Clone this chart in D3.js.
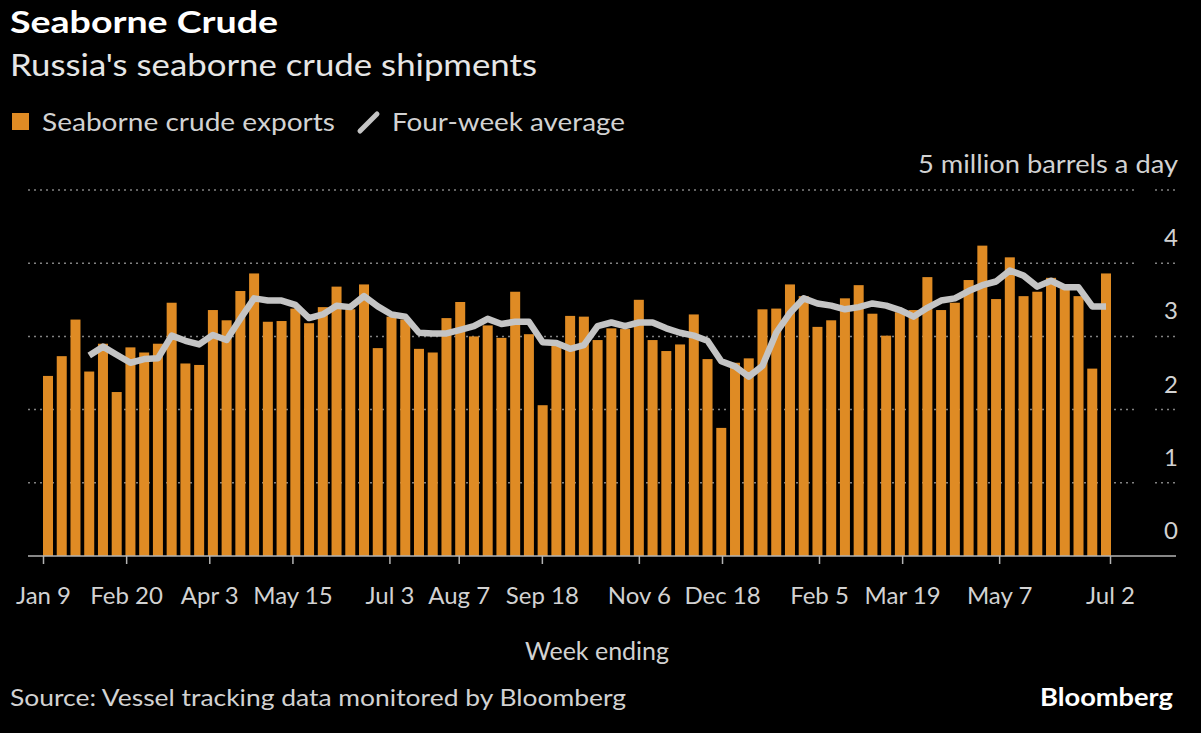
<!DOCTYPE html>
<html>
<head>
<meta charset="utf-8">
<script src="https://cdn.jsdelivr.net/npm/d3@7"></script>
<style>
  html, body { margin: 0; padding: 0; background: #000; }
  svg { display: block; font-family: Lato, "Open Sans", sans-serif; }
</style>
</head>
<body>
<svg id="chart" width="1201" height="733"></svg>
<script>
// ---- data ----
const weeks = [
  "2022-01-09","2022-01-16","2022-01-23","2022-01-30","2022-02-06","2022-02-13","2022-02-20","2022-02-27",
  "2022-03-06","2022-03-13","2022-03-20","2022-03-27","2022-04-03","2022-04-10","2022-04-17","2022-04-24",
  "2022-05-01","2022-05-08","2022-05-15","2022-05-22","2022-05-29","2022-06-05","2022-06-12","2022-06-19",
  "2022-06-26","2022-07-03","2022-07-10","2022-07-17","2022-07-24","2022-07-31","2022-08-07","2022-08-14",
  "2022-08-21","2022-08-28","2022-09-04","2022-09-11","2022-09-18","2022-09-25","2022-10-02","2022-10-09",
  "2022-10-16","2022-10-23","2022-10-30","2022-11-06","2022-11-13","2022-11-20","2022-11-27","2022-12-04",
  "2022-12-11","2022-12-18","2022-12-25","2023-01-01","2023-01-08","2023-01-15","2023-01-22","2023-01-29",
  "2023-02-05","2023-02-12","2023-02-19","2023-02-26","2023-03-05","2023-03-12","2023-03-19","2023-03-26",
  "2023-04-02","2023-04-09","2023-04-16","2023-04-23","2023-04-30","2023-05-07","2023-05-14","2023-05-21",
  "2023-05-28","2023-06-04","2023-06-11","2023-06-18","2023-06-25","2023-07-02"
];
const exportsMbd = [
  2.46,2.73,3.23,2.52,2.90,2.24,2.85,2.78,2.90,3.46,
  2.63,2.61,3.36,3.22,3.62,3.86,3.20,3.21,3.38,3.18,
  3.40,3.68,3.37,3.71,2.84,3.27,3.23,2.83,2.78,3.25,
  3.47,3.00,3.15,2.98,3.61,3.03,2.06,2.88,3.28,3.27,
  2.95,3.11,3.10,3.50,2.95,2.80,2.89,3.30,2.69,1.75,
  2.64,2.70,3.37,3.38,3.71,3.55,3.13,3.22,3.52,3.70,
  3.31,3.01,3.33,3.36,3.81,3.36,3.46,3.77,4.24,3.51,
  4.08,3.55,3.61,3.80,3.65,3.55,2.56,3.86
];
// four-week average, starting with the 4th week (first three weeks have no value)
const fourWeekAvg = [
  null,null,null,
  2.74,2.86,2.75,2.64,2.69,2.70,3.01,2.94,2.89,3.02,
  2.95,3.24,3.52,3.49,3.49,3.43,3.25,3.30,3.42,3.40,
  3.55,3.41,3.30,3.27,3.05,3.04,3.04,3.09,3.14,3.24,
  3.17,3.20,3.20,2.92,2.91,2.83,2.88,3.14,3.19,3.14,
  3.19,3.19,3.11,3.05,3.01,2.94,2.66,2.59,2.45,2.60,
  3.05,3.32,3.52,3.45,3.42,3.37,3.40,3.45,3.42,3.36,
  3.27,3.39,3.49,3.52,3.62,3.70,3.75,3.90,3.83,3.68,
  3.76,3.67,3.67,3.41,3.41
];
const tickDates = ["2022-01-09","2022-02-20","2022-04-03","2022-05-15","2022-07-03","2022-08-07","2022-09-18",
                   "2022-11-06","2022-12-18","2023-02-05","2023-03-19","2023-05-07","2023-07-02"];
const tickLabels = ["Jan 9","Feb 20","Apr 3","May 15","Jul 3","Aug 7","Sep 18",
                    "Nov 6","Dec 18","Feb 5","Mar 19","May 7","Jul 2"];
const yTicks = [0,1,2,3,4,5];

// ---- setup ----
const parse = d3.timeParse("%Y-%m-%d");
const svg = d3.select("#chart");
const W = 1201, H = 733;
svg.append("rect").attr("width", W).attr("height", H).attr("fill", "#000");

const plotLeft = 43, plotRight = 1111;
const y = d3.scaleLinear().domain([0, 5]).range([556, 190]);
const xBand = d3.scaleBand().domain(d3.range(weeks.length)).range([plotLeft, plotRight])
  .paddingInner(0.272).paddingOuter(0);
const xTime = d3.scaleTime().domain([parse(weeks[0]), parse(weeks[weeks.length - 1])]).range([plotLeft, 1110]);

const textCol = "#d2d2d2";
const orange = "#df8b24";
const lineCol = "#c4c4c4";

// ---- titles ----
svg.append("text").attr("x", 10).attr("y", 33).attr("fill", "#fff")
  .attr("font-size", 30).attr("font-weight", 700)
  .attr("textLength", 268).attr("lengthAdjust", "spacingAndGlyphs")
  .text("Seaborne Crude");
svg.append("text").attr("x", 10).attr("y", 76).attr("fill", "#e6e6e6")
  .attr("font-size", 30)
  .attr("textLength", 527).attr("lengthAdjust", "spacingAndGlyphs")
  .text("Russia's seaborne crude shipments");

// ---- legend ----
svg.append("rect").attr("x", 12).attr("y", 113).attr("width", 17).attr("height", 17).attr("fill", orange);
svg.append("text").attr("x", 42).attr("y", 131).attr("fill", textCol).attr("font-size", 25)
  .attr("textLength", 293).attr("lengthAdjust", "spacingAndGlyphs")
  .text("Seaborne crude exports");
svg.append("line").attr("x1", 360).attr("y1", 131).attr("x2", 377).attr("y2", 114)
  .attr("stroke", lineCol).attr("stroke-width", 5).attr("stroke-linecap", "round");
svg.append("text").attr("x", 392).attr("y", 131).attr("fill", textCol).attr("font-size", 25)
  .attr("textLength", 233).attr("lengthAdjust", "spacingAndGlyphs")
  .text("Four-week average");

// ---- gridlines ----
const grid = svg.append("g");
yTicks.filter(v => v > 0).forEach(v => {
  grid.append("line").attr("x1", 28).attr("x2", 1138).attr("y1", y(v)).attr("y2", y(v))
    .attr("stroke", "#828282").attr("stroke-width", 1.5).attr("stroke-dasharray", "2,4");
  grid.append("line").attr("x1", 1155).attr("x2", 1176).attr("y1", y(v)).attr("y2", y(v))
    .attr("stroke", "#828282").attr("stroke-width", 1.5).attr("stroke-dasharray", "2,4");
});

// y labels (above their gridlines, right aligned)
svg.append("g").selectAll("text").data(yTicks.filter(v => v < 5)).join("text")
  .attr("x", 1178).attr("y", d => y(d) - 17).attr("text-anchor", "end")
  .attr("fill", textCol).attr("font-size", 24).text(d => d);
svg.append("text").attr("x", 1178).attr("y", y(5) - 17).attr("text-anchor", "end")
  .attr("fill", textCol).attr("font-size", 25)
  .attr("textLength", 260).attr("lengthAdjust", "spacingAndGlyphs")
  .text("5 million barrels a day");

// ---- bars ----
svg.append("g").selectAll("rect").data(exportsMbd).join("rect")
  .attr("x", (d, i) => xBand(i))
  .attr("width", xBand.bandwidth())
  .attr("y", d => y(d))
  .attr("height", d => y(0) - y(d))
  .attr("fill", orange);

// ---- four-week average line ----
const line = d3.line()
  .defined(d => d != null)
  .x((d, i) => xBand(i) + xBand.bandwidth() / 2)
  .y(d => y(d));
svg.append("path").datum(fourWeekAvg)
  .attr("d", line)
  .attr("fill", "none").attr("stroke", lineCol).attr("stroke-width", 6.5)
  .attr("stroke-linejoin", "round").attr("stroke-linecap", "butt");

// ---- x axis ----
svg.append("line").attr("x1", 28).attr("x2", 1176).attr("y1", y(0)).attr("y2", y(0))
  .attr("stroke", "#b4b4b4").attr("stroke-width", 1.5);
const xAxis = d3.axisBottom(xTime)
  .tickValues(tickDates.map(parse))
  .tickFormat((d, i) => tickLabels[i])
  .tickSize(8).tickPadding(23);
const gx = svg.append("g").attr("transform", `translate(0,${y(0)})`).call(xAxis);
gx.select(".domain").remove();
gx.selectAll(".tick line").attr("stroke", "#b4b4b4").attr("stroke-width", 1.5);
gx.selectAll(".tick text").attr("fill", textCol).attr("font-size", 24)
  .attr("font-family", "Lato, 'Open Sans', sans-serif").attr("dy", "0.71em");

svg.append("text").attr("x", 597).attr("y", 660).attr("text-anchor", "middle")
  .attr("fill", textCol).attr("font-size", 25).text("Week ending");

// ---- footer ----
svg.append("text").attr("x", 10).attr("y", 706).attr("fill", textCol).attr("font-size", 24)
  .attr("textLength", 616).attr("lengthAdjust", "spacingAndGlyphs")
  .text("Source: Vessel tracking data monitored by Bloomberg");
svg.append("text").attr("x", 1173).attr("y", 706).attr("text-anchor", "end")
  .attr("fill", "#fff").attr("font-size", 24).attr("font-weight", 700)
  .attr("textLength", 133).attr("lengthAdjust", "spacingAndGlyphs")
  .text("Bloomberg");
</script>
</body>
</html>
